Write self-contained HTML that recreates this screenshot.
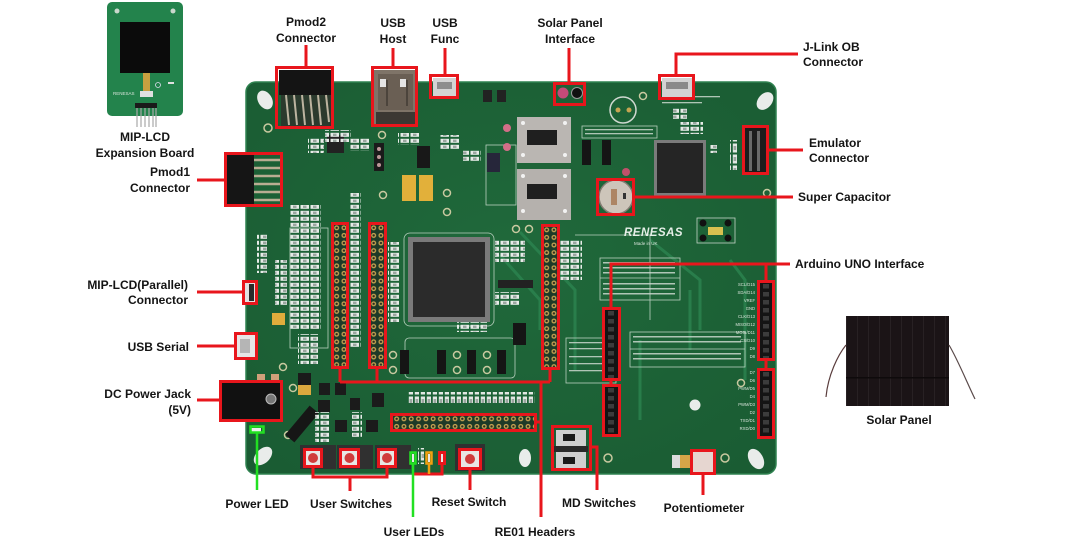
<!DOCTYPE html>
<html><head><meta charset="utf-8">
<style>
html,body{margin:0;padding:0;background:#fff;width:1080px;height:537px;overflow:hidden}
svg{display:block}
.l{font-family:"Liberation Sans",Arial,sans-serif;font-weight:bold;font-size:12px;fill:#141414}
.s{font-family:"Liberation Sans",Arial,sans-serif;font-size:4.5px;fill:#d8e4da}
.r{fill:none;stroke:#e8161c;stroke-width:3}
.g{fill:none;stroke:#22e022;stroke-width:2.5}
.o{fill:none;stroke:#f2a010;stroke-width:2.5}
.silk{fill:none;stroke:#b9d0bf;stroke-width:0.8}
</style></head>
<body>
<svg width="1080" height="537" viewBox="0 0 1080 537" xmlns="http://www.w3.org/2000/svg">
<defs>
 <pattern id="gp" width="7.3" height="7.6" patternUnits="userSpaceOnUse"><rect width="7.3" height="7.6" fill="#1d3a27"/><circle cx="3.65" cy="3.8" r="2.5" fill="#c6a552"/><circle cx="3.65" cy="3.8" r="1.2" fill="#2a2a20"/></pattern>
 <pattern id="bp" width="14" height="8" patternUnits="userSpaceOnUse"><rect width="14" height="8" fill="#141414"/><rect x="4" y="2" width="6" height="4.5" fill="#3c3c3c"/></pattern>
 <pattern id="wr" width="10" height="6" patternUnits="userSpaceOnUse"><rect x="0.5" y="0.8" width="8.5" height="4" fill="#e6ebe7"/><rect x="3" y="1.6" width="3.5" height="2.4" fill="#9aa6a0"/></pattern>
 <pattern id="wv" width="6" height="11" patternUnits="userSpaceOnUse"><rect x="0.8" y="0.5" width="4.2" height="9" fill="#e2e7e3"/><rect x="1.6" y="3" width="2.6" height="4" fill="#9aa6a0"/></pattern>
 <pattern id="sp" width="11" height="90" patternUnits="userSpaceOnUse"><rect width="11" height="90" fill="#1b1416"/><rect x="10" width="0.8" height="90" fill="#2b2426"/></pattern>
 <radialGradient id="bg" cx="0.5" cy="0.45" r="0.7"><stop offset="0" stop-color="#20693b"/><stop offset="1" stop-color="#1a5c33"/></radialGradient>
</defs>

<!-- MIP-LCD expansion board -->
<rect x="107" y="2" width="76" height="114" rx="5" fill="#23834c"/>
<circle cx="117" cy="11" r="2.5" fill="#c9d8cc"/><circle cx="173" cy="11" r="2.5" fill="#c9d8cc"/>
<rect x="120" y="22" width="50" height="51" fill="#0b0b0b"/>
<rect x="143" y="73" width="7" height="18" fill="#c8a040"/>
<rect x="140" y="91" width="13" height="6" fill="#e0e0e0"/>
<circle cx="158" cy="85" r="2.5" fill="none" stroke="#dde" stroke-width="0.8"/>
<rect x="168" y="82" width="6" height="2" fill="#e0e0e0"/>
<text x="113" y="95" class="s">RENESAS</text>
<rect x="135" y="103" width="22" height="5" fill="#1a1a1a"/>
<g stroke="#a8a8a8" stroke-width="1.2"><line x1="137" y1="108" x2="137" y2="127"/><line x1="141" y1="108" x2="141" y2="127"/><line x1="145" y1="108" x2="145" y2="127"/><line x1="149" y1="108" x2="149" y2="127"/><line x1="153" y1="108" x2="153" y2="127"/><line x1="156" y1="108" x2="156" y2="127"/></g>

<!-- main board -->
<rect x="246" y="82" width="530" height="392" rx="10" fill="url(#bg)" stroke="#2f8250" stroke-width="1.5"/>
<g stroke="#2c8450" stroke-width="3" fill="none" opacity="0.8">
 <path d="M500,255 L540,300 L540,330"/><path d="M520,232 L575,290 L575,370"/><path d="M650,240 L700,280 L700,330"/>
 <path d="M730,260 L745,280 L745,380"/><path d="M690,290 L690,350"/><path d="M640,340 L640,420"/>
</g>
<g class="silk">
 <rect x="404" y="233" width="90" height="93" rx="6"/>
 <rect x="600" y="258" width="80" height="42"/><line x1="600" y1="278" x2="680" y2="278"/>
 <rect x="630" y="332" width="115" height="35"/><line x1="630" y1="349" x2="745" y2="349"/>
 <rect x="582" y="126" width="75" height="12"/><rect x="566" y="338" width="50" height="45"/>
 <rect x="290" y="228" width="38" height="120"/><path d="M575,235 L650,235 L650,320"/>
 <rect x="486" y="145" width="30" height="60"/><rect x="405" y="338" width="110" height="40" rx="4"/>
</g>
<g fill="#c9d7cc" opacity="0.85">
 <rect x="603" y="262" width="72" height="1.5"/><rect x="603" y="267" width="72" height="1.5"/><rect x="603" y="272" width="72" height="1.5"/>
 <rect x="603" y="283" width="72" height="1.5"/><rect x="603" y="288" width="72" height="1.5"/><rect x="603" y="293" width="72" height="1.5"/>
 <rect x="633" y="336" width="108" height="1.5"/><rect x="633" y="341" width="108" height="1.5"/><rect x="633" y="353" width="108" height="1.5"/><rect x="633" y="358" width="108" height="1.5"/>
 <rect x="569" y="342" width="44" height="1.3"/><rect x="569" y="348" width="44" height="1.3"/><rect x="569" y="356" width="44" height="1.3"/><rect x="569" y="363" width="44" height="1.3"/><rect x="569" y="370" width="44" height="1.3"/>
 <rect x="585" y="129" width="68" height="1.3"/><rect x="585" y="133" width="68" height="1.3"/>
 <rect x="662" y="102" width="40" height="1.3"/><rect x="690" y="96" width="30" height="1.3"/>
</g>

<!-- mounting holes -->
<g fill="#e9ecea">
 <ellipse cx="265" cy="100" rx="7" ry="10" transform="rotate(-30 265 100)"/>
 <ellipse cx="765" cy="101" rx="7" ry="10" transform="rotate(40 765 101)"/>
 <ellipse cx="263" cy="456" rx="7" ry="11" transform="rotate(45 263 456)"/>
 <ellipse cx="756" cy="459" rx="7" ry="11" transform="rotate(-30 756 459)"/>
 <ellipse cx="525" cy="458" rx="6" ry="9"/>
 <circle cx="695" cy="405" r="5.5"/>
</g>

<!-- Pmod2 -->
<rect x="279" y="70" width="54" height="25" fill="#141414"/>
<rect x="281" y="95" width="50" height="31" fill="#2b3a2d"/>
<g stroke="#bdb4a0" stroke-width="2"><line x1="286" y1="95" x2="289" y2="125"/><line x1="294" y1="95" x2="297" y2="125"/><line x1="302" y1="95" x2="305" y2="125"/><line x1="310" y1="95" x2="313" y2="125"/><line x1="318" y1="95" x2="321" y2="125"/><line x1="326" y1="95" x2="329" y2="122"/></g>
<!-- USB host -->
<rect x="374" y="70" width="43" height="56" fill="#7f7468"/>
<rect x="378" y="74" width="35" height="36" fill="#6a5f54"/>
<rect x="380" y="79" width="6" height="8" fill="#e4e4e4"/><rect x="400" y="79" width="6" height="8" fill="#e4e4e4"/>
<rect x="386" y="80" width="2" height="26" fill="#4c443c"/><rect x="406" y="80" width="2" height="26" fill="#4c443c"/>
<rect x="376" y="112" width="39" height="12" fill="#3c3833"/>
<!-- USB func -->
<rect x="433" y="78" width="23" height="18" fill="#d4d4d4"/><rect x="437" y="82" width="15" height="7" fill="#8d8d8d"/>
<!-- Pmod1 -->
<rect x="226" y="154" width="28" height="52" fill="#151515"/>
<g stroke="#b9ad92" stroke-width="2.5"><line x1="254" y1="160" x2="281" y2="160"/><line x1="254" y1="168" x2="281" y2="168"/><line x1="254" y1="176" x2="281" y2="176"/><line x1="254" y1="184" x2="281" y2="184"/><line x1="254" y1="192" x2="281" y2="192"/><line x1="254" y1="200" x2="281" y2="200"/></g>
<!-- small top components -->
<rect x="308" y="137" width="16" height="16" fill="url(#wr)"/>
<rect x="327" y="135" width="17" height="18" fill="#222"/>
<rect x="350" y="137" width="20" height="14" fill="url(#wr)"/>
<rect x="374" y="143" width="10" height="28" fill="#1a1a1a"/><circle cx="379" cy="149" r="2" fill="#b99"/><circle cx="379" cy="157" r="2" fill="#b99"/><circle cx="379" cy="165" r="2" fill="#b99"/>
<rect x="398" y="133" width="22" height="12" fill="url(#wr)"/>
<rect x="417" y="146" width="13" height="22" fill="#181818"/>
<rect x="440" y="135" width="20" height="14" fill="url(#wr)"/>
<rect x="463" y="150" width="18" height="12" fill="url(#wr)"/>
<rect x="487" y="153" width="13" height="19" fill="#26263a"/>
<rect x="483" y="90" width="9" height="12" fill="#222"/><rect x="497" y="90" width="9" height="12" fill="#222"/>
<circle cx="507" cy="128" r="4" fill="#d36e88"/><circle cx="507" cy="147" r="4" fill="#d36e88"/>
<g fill="none" stroke="#c9c9a0" stroke-width="1.5">
<circle cx="268" cy="128" r="4"/><circle cx="382" cy="135" r="3.5"/><circle cx="447" cy="212" r="3.5"/><circle cx="447" cy="193" r="3.5"/><circle cx="383" cy="195" r="3.5"/><circle cx="516" cy="229" r="3.5"/><circle cx="529" cy="229" r="3.5"/><circle cx="741" cy="383" r="3.5"/><circle cx="767" cy="193" r="3.5"/><circle cx="608" cy="458" r="4"/><circle cx="725" cy="458" r="4"/><circle cx="283" cy="367" r="3.5"/><circle cx="293" cy="388" r="3.5"/><circle cx="288" cy="435" r="3.5"/>
</g>
<!-- yellow caps -->
<rect x="402" y="175" width="14" height="26" fill="#e2b03a"/><rect x="419" y="175" width="14" height="26" fill="#e2b03a"/>
<rect x="272" y="313" width="13" height="12" fill="#e0ad3c"/>
<rect x="298" y="373" width="13" height="12" fill="#1a1a1a"/><rect x="298" y="385" width="13" height="10" fill="#dca83e"/>
<!-- big slide switches -->
<rect x="517" y="117" width="54" height="46" fill="#bab6b2"/><rect x="527" y="130" width="30" height="15" fill="#1f1f1f"/>
<rect x="517" y="169" width="54" height="51" fill="#b5b1ad"/><rect x="527" y="184" width="30" height="15" fill="#1f1f1f"/>
<g fill="#f2f2f2"><circle cx="523" cy="123" r="2"/><circle cx="565" cy="123" r="2"/><circle cx="523" cy="155" r="2"/><circle cx="565" cy="155" r="2"/><circle cx="523" cy="176" r="2"/><circle cx="565" cy="176" r="2"/><circle cx="523" cy="211" r="2"/><circle cx="565" cy="211" r="2"/></g>
<rect x="582" y="140" width="9" height="25" fill="#151515"/><rect x="602" y="140" width="9" height="25" fill="#151515"/>
<!-- solar connector -->
<circle cx="563" cy="93" r="5.5" fill="#c44a78"/><circle cx="577" cy="93" r="5.5" fill="#111" stroke="#9a9a9a" stroke-width="1"/>
<!-- BT2 -->
<circle cx="623" cy="110" r="13" fill="none" stroke="#cfd8d0" stroke-width="1.5"/>
<circle cx="618" cy="110" r="2.5" fill="#c6a552"/><circle cx="629" cy="110" r="2.5" fill="#c6a552"/>
<circle cx="643" cy="96" r="3.5" fill="none" stroke="#c9c9a0" stroke-width="1.5"/>
<circle cx="626" cy="172" r="4" fill="#c0506a"/>
<!-- J-Link USB -->
<rect x="662" y="78" width="30" height="19" fill="#d3d3d3"/><rect x="666" y="82" width="22" height="7" fill="#8a8a8a"/>
<rect x="673" y="107" width="14" height="12" fill="url(#wr)"/><rect x="679" y="122" width="24" height="12" fill="url(#wr)"/>
<!-- J-Link chip -->
<rect x="654" y="140" width="52" height="56" fill="#7b7b7b"/><rect x="657" y="143" width="46" height="50" fill="#252525"/>
<!-- super capacitor -->
<circle cx="616" cy="197" r="17" fill="#cdc5ba" stroke="#847c72" stroke-width="1.5"/>
<rect x="611" y="189" width="6" height="16" fill="#a06a40" opacity="0.7"/><rect x="623" y="193" width="3" height="6" fill="#333"/>
<!-- emulator connector -->
<rect x="745" y="128" width="22" height="45" fill="#1c1c1c"/>
<g fill="#6a6a6a"><rect x="749" y="131" width="3" height="40"/><rect x="757" y="131" width="3" height="40"/></g>
<rect x="709" y="145" width="8" height="8" fill="url(#wr)"/><rect x="730" y="140" width="8" height="30" fill="url(#wv)"/>
<!-- RENESAS -->
<text x="624" y="236" style="font-family:'Liberation Sans',sans-serif;font-size:11.5px;font-weight:bold;font-style:italic;fill:#e6efe8;letter-spacing:0.5px">RENESAS</text>
<text x="634" y="245" class="s">Made in UK</text>
<!-- needle connector -->
<rect x="697" y="218" width="38" height="25" fill="none" stroke="#c3d3c6" stroke-width="0.8"/>
<g fill="#111"><circle cx="703" cy="223" r="3.5"/><circle cx="728" cy="223" r="3.5"/><circle cx="703" cy="238" r="3.5"/><circle cx="728" cy="238" r="3.5"/></g>
<rect x="708" y="227" width="15" height="8" fill="#d8c050"/>
<!-- main chip -->
<rect x="408" y="237" width="82" height="85" fill="#7a7a7a"/><rect x="413" y="242" width="72" height="75" fill="#2b2b2b"/>
<!-- right side SMDs -->
<rect x="495" y="240" width="30" height="22" fill="url(#wr)"/>
<rect x="498" y="280" width="35" height="8" fill="#222"/><rect x="495" y="292" width="25" height="14" fill="url(#wr)"/>
<rect x="513" y="323" width="13" height="22" fill="#151515"/>
<rect x="457" y="322" width="30" height="10" fill="url(#wr)"/><rect x="560" y="240" width="22" height="40" fill="url(#wr)"/>
<!-- white resistor clusters -->
<rect x="290" y="205" width="31" height="125" fill="url(#wr)"/>
<rect x="350" y="193" width="11" height="155" fill="url(#wr)"/>
<rect x="388" y="242" width="12" height="80" fill="url(#wr)"/>
<rect x="275" y="260" width="12" height="45" fill="url(#wr)"/>
<rect x="298" y="334" width="20" height="30" fill="url(#wr)"/>
<rect x="407" y="392" width="128" height="11" fill="url(#wv)"/>
<rect x="325" y="130" width="26" height="12" fill="url(#wr)"/>
<rect x="257" y="233" width="10" height="40" fill="url(#wr)"/>
<!-- jumpers bottom -->
<g fill="#151515"><rect x="400" y="350" width="9" height="24"/><rect x="437" y="350" width="9" height="24"/><rect x="467" y="350" width="9" height="24"/><rect x="497" y="350" width="9" height="24"/></g>
<g fill="none" stroke="#c9c9a0" stroke-width="1.5"><circle cx="393" cy="355" r="3.5"/><circle cx="393" cy="370" r="3.5"/><circle cx="457" cy="355" r="3.5"/><circle cx="457" cy="370" r="3.5"/><circle cx="487" cy="355" r="3.5"/><circle cx="487" cy="370" r="3.5"/></g>
<!-- left-bottom components -->
<rect x="222" y="382" width="59" height="38" fill="#111"/><circle cx="271" cy="399" r="5" fill="#777" stroke="#bbb" stroke-width="1"/>
<rect x="257" y="374" width="8" height="6" fill="#d0a07a"/><rect x="271" y="374" width="8" height="6" fill="#d0a07a"/>
<rect x="236" y="334" width="21" height="24" fill="#e6e6e6"/><rect x="240" y="339" width="10" height="14" fill="#b5b5b5"/>
<rect x="244" y="282" width="12" height="21" fill="#e2e2e2"/><rect x="249" y="284" width="5" height="17" fill="#2a2a2a"/>
<rect x="251" y="428" width="10" height="4" fill="#eee"/>
<rect x="296" y="405" width="12" height="38" fill="#161616" transform="rotate(40 302 424)"/>
<g fill="#1b1b1b"><rect x="319" y="383" width="11" height="12"/><rect x="335" y="383" width="11" height="12"/><rect x="318" y="400" width="12" height="12"/><rect x="350" y="398" width="10" height="12"/><rect x="372" y="393" width="12" height="14"/><rect x="335" y="420" width="12" height="12"/><rect x="366" y="420" width="12" height="12"/></g>
<rect x="315" y="412" width="15" height="30" fill="url(#wr)"/><rect x="352" y="412" width="10" height="26" fill="url(#wr)"/>
<!-- headers -->
<g transform="translate(333,224)"><rect width="14.6" height="144" fill="url(#gp)"/></g>
<g transform="translate(370,224)"><rect width="14.6" height="144" fill="url(#gp)"/></g>
<g transform="translate(543,226)"><rect width="14.6" height="142" fill="url(#gp)"/></g>
<g transform="translate(393,415)"><rect width="142" height="15.2" fill="url(#gp)"/></g>
<!-- Arduino headers -->
<g transform="translate(604,309)"><rect width="14" height="70" fill="url(#bp)"/></g>
<g transform="translate(604,386)"><rect width="14" height="49" fill="url(#bp)"/></g>
<g transform="translate(759,282)"><rect width="14" height="77" fill="url(#bp)"/></g>
<g transform="translate(759,370)"><rect width="14" height="67" fill="url(#bp)"/></g>
<g class="s" text-anchor="end" style="font-size:4.2px">
 <text x="755" y="286">SCL/D15</text><text x="755" y="294">SDA/D14</text><text x="755" y="302">VREF</text><text x="755" y="310">GND</text><text x="755" y="318">CLK/D13</text><text x="755" y="326">MISO/D12</text><text x="755" y="334">MOSI/D11</text><text x="755" y="342">CS/D10</text><text x="755" y="350">D9</text><text x="755" y="358">D8</text>
 <text x="755" y="374">D7</text><text x="755" y="382">D6</text><text x="755" y="390">PWM/D5</text><text x="755" y="398">D4</text><text x="755" y="406">PWM/D3</text><text x="755" y="414">D2</text><text x="755" y="422">TXD/D1</text><text x="755" y="430">RXD/D0</text>
</g>
<!-- buttons -->
<g fill="#303030"><rect x="300" y="445" width="36" height="24"/><rect x="337" y="445" width="36" height="24"/><rect x="375" y="445" width="36" height="24"/><rect x="455" y="444" width="30" height="27"/></g>
<g fill="#e8e6e4"><rect x="305" y="450" width="16" height="16"/><rect x="341" y="450" width="17" height="16"/><rect x="379" y="450" width="16" height="16"/><rect x="460" y="450" width="20" height="18"/></g>
<g fill="#d03c3c"><circle cx="313" cy="458" r="5"/><circle cx="349.5" cy="458" r="5"/><circle cx="387" cy="458" r="5"/><circle cx="470" cy="459" r="5"/></g>
<!-- LEDs -->
<g fill="#e8e8e8"><rect x="412" y="454" width="2" height="8"/><rect x="428" y="454" width="2" height="8"/><rect x="441" y="454" width="2" height="8"/></g>
<rect x="418" y="448" width="6" height="16" fill="url(#wv)"/>
<!-- MD switches -->
<rect x="556" y="430" width="30" height="16" fill="#cfcfcf"/><rect x="563" y="434" width="12" height="7" fill="#1a1a1a"/>
<rect x="554" y="446" width="34" height="6" fill="#2a2a2a"/>
<rect x="556" y="452" width="30" height="16" fill="#cfcfcf"/><rect x="563" y="457" width="12" height="7" fill="#1a1a1a"/>
<!-- potentiometer area -->
<rect x="693" y="452" width="20" height="20" fill="#e6d6d0"/>
<rect x="680" y="455" width="10" height="13" fill="#d5a548"/><rect x="672" y="455" width="8" height="13" fill="#dcdcdc"/>

<!-- Solar panel -->
<rect x="846" y="316" width="103" height="90" fill="url(#sp)"/>
<rect x="846" y="377" width="103" height="1.5" fill="#0e0a0b"/>
<path d="M846,345 C838,355 828,375 826,397" stroke="#5a3d3d" stroke-width="1.2" fill="none"/>
<path d="M949,345 C958,360 968,385 975,399" stroke="#5a4a4a" stroke-width="1.2" fill="none"/>

<!-- annotations -->
<g class="r">
 <rect x="276.5" y="67.5" width="56" height="60"/>
 <rect x="372.5" y="67.5" width="44" height="58"/>
 <rect x="430.5" y="75.5" width="27" height="22"/>
 <rect x="554.5" y="83.5" width="30" height="21"/>
 <rect x="659.5" y="75.5" width="34" height="23"/>
 <rect x="743.5" y="126.5" width="24" height="47"/>
 <rect x="597.5" y="179.5" width="36" height="35"/>
 <rect x="225.5" y="153.5" width="56" height="52"/>
 <rect x="243.5" y="281.5" width="13" height="22"/>
 <rect x="235.5" y="333.5" width="21" height="25"/>
 <rect x="220.5" y="381.5" width="61" height="39"/>
 <rect x="332.5" y="223.5" width="15" height="144"/>
 <rect x="369.5" y="223.5" width="16" height="144"/>
 <rect x="542.5" y="225.5" width="16" height="143"/>
 <rect x="391.5" y="414.5" width="144" height="16"/>
 <rect x="603.5" y="308.5" width="16" height="71"/>
 <rect x="603.5" y="385.5" width="16" height="50"/>
 <rect x="758.5" y="281.5" width="15" height="78"/>
 <rect x="758.5" y="369.5" width="15" height="68"/>
 <rect x="552.5" y="426.5" width="38" height="43"/>
 <rect x="691.5" y="450.5" width="23" height="23"/>
 <rect x="459.5" y="449.5" width="21" height="19"/>
 <rect x="304.5" y="449.5" width="17" height="17"/>
 <rect x="340.5" y="449.5" width="18" height="17"/>
 <rect x="378.5" y="449.5" width="17" height="17"/>
 <rect x="439.5" y="452.5" width="5" height="11"/>
 <path d="M306,67 V45"/><path d="M393,67 V48"/><path d="M445,75 V48"/><path d="M569,83 V48"/>
 <path d="M676,75 V54 H798"/><path d="M768,150 H803"/><path d="M634,197 H793"/>
 <path d="M611,308 V264 H790"/><path d="M766,281 V264"/><path d="M611,380 V385"/><path d="M766,360 V369"/>
 <path d="M197,180 H225"/><path d="M197,292 H243"/><path d="M197,346 H235"/><path d="M197,400 H220"/>
 <path d="M313,467 V477 H387 V467"/><path d="M350,477 V491"/>
 <path d="M442,464 V474 H413"/><path d="M470,469 V490"/>
 <path d="M340,368 V382 M377,368 V382 M550,369 V382 M340,382 H550"/>
 <path d="M541,382 V517"/><path d="M536,422 H541"/>
 <path d="M590,447 H597 V490"/><path d="M703,474 V495"/>
</g>
<g class="g"><rect x="250.5" y="426.5" width="13" height="6"/><rect x="410.5" y="452.5" width="5" height="11"/><path d="M257,433 V490"/><path d="M413,464 V517"/></g>
<g class="o"><rect x="426.5" y="452.5" width="5" height="11"/><path d="M429,464 V474"/></g>

<!-- labels -->
<g class="l" text-anchor="middle">
 <text x="145" y="141">MIP-LCD</text><text x="145" y="157">Expansion Board</text>
 <text x="306" y="26">Pmod2</text><text x="306" y="42">Connector</text>
 <text x="393" y="27">USB</text><text x="393" y="43">Host</text>
 <text x="445" y="27">USB</text><text x="445" y="43">Func</text>
 <text x="570" y="27">Solar Panel</text><text x="570" y="43">Interface</text>
 <text x="257" y="508">Power LED</text>
 <text x="351" y="508">User Switches</text>
 <text x="469" y="506">Reset Switch</text>
 <text x="414" y="536">User LEDs</text>
 <text x="535" y="536">RE01 Headers</text>
 <text x="599" y="507">MD Switches</text>
 <text x="704" y="512">Potentiometer</text>
 <text x="899" y="424">Solar Panel</text>
</g>
<g class="l" text-anchor="start">
 <text x="803" y="51">J-Link OB</text><text x="803" y="66">Connector</text>
 <text x="809" y="147">Emulator</text><text x="809" y="162">Connector</text>
 <text x="798" y="201">Super Capacitor</text>
 <text x="795" y="268">Arduino UNO Interface</text>
</g>
<g class="l" text-anchor="end">
 <text x="190" y="176">Pmod1</text><text x="190" y="192">Connector</text>
 <text x="188" y="289">MIP-LCD(Parallel)</text><text x="188" y="304">Connector</text>
 <text x="189" y="351">USB Serial</text>
 <text x="191" y="398">DC Power Jack</text><text x="191" y="414">(5V)</text>
</g>
</svg>
</body></html>
